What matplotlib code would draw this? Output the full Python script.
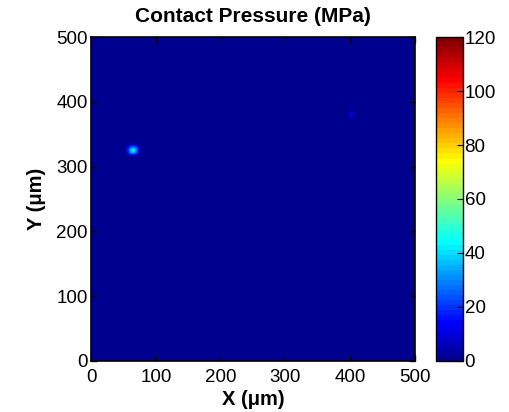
import numpy as np
import matplotlib
matplotlib.use('Agg')
import matplotlib.pyplot as plt
from matplotlib.colors import ListedColormap

plt.rcParams['font.family'] = ['Liberation Sans', 'DejaVu Sans']

# contact pressure map, 4 um cells over 500 x 500 um, mostly zero
cell = 4.0
size = 500.0
x_ticks = [0, 100, 200, 300, 400, 500]
y_ticks = [0, 100, 200, 300, 400, 500]
cb_ticks = [0, 20, 40, 60, 80, 100, 120]
p_min, p_max = 0, 120

# spot near (65, 327) um, rows from high y to low y
spot1_center = (65, 327)
spot1 = [[0, 3, 6, 6, 4, 1, 0],
         [2, 12, 25, 28, 20, 6, 1],
         [4, 22, 40, 44, 32, 10, 2],
         [3, 18, 35, 38, 26, 8, 1],
         [1, 5, 10, 10, 6, 2, 0]]
# faint spot near (403, 380) um
spot2_center = (403, 380)
spot2 = [[1, 4, 1],
         [3, 13, 3],
         [3, 12, 3],
         [1, 4, 1]]

n = int(size/cell)
pressure = np.zeros((n, n))
for center, patch in [(spot1_center, spot1), (spot2_center, spot2)]:
    patch = np.array(patch, dtype=float)[::-1]
    ci = int(center[1]/cell)
    cj = int(center[0]/cell)
    i0 = ci - patch.shape[0]//2
    j0 = cj - patch.shape[1]//2
    pressure[i0:i0+patch.shape[0], j0:j0+patch.shape[1]] = patch

def matlab_jet(m=64):
    k = int(np.ceil(m/4))
    u = np.concatenate([np.arange(1, k+1)/k, np.ones(k-1), np.arange(k, 0, -1)/k])
    g = int(np.ceil(k/2)) - (1 if m % 4 == 1 else 0) + np.arange(1, len(u)+1)
    r = g + k
    b = g - k
    cols = np.zeros((m, 3))
    for idx, ch in [(0, r), (1, g), (2, b)]:
        ok = (ch >= 1) & (ch <= m)
        cols[ch[ok]-1, idx] = u[ok]
    return ListedColormap(cols)

cmap = matlab_jet(64)
fs = 13.5

fig = plt.figure(figsize=(5.09, 4.12), dpi=100)
ax = fig.add_axes([0.179, 0.124, 0.636, 0.786])
cax = fig.add_axes([0.857, 0.124, 0.053, 0.786])

im = ax.imshow(pressure, origin='lower', extent=[0, size, 0, size], aspect='auto',
               cmap=cmap, vmin=p_min, vmax=p_max, interpolation='bilinear')
ax.set_xlim(0, 500)
ax.set_ylim(0, 500)
ax.set_xticks(x_ticks)
ax.set_yticks(y_ticks)
ax.tick_params(direction='in', top=True, right=True, length=4, width=1, labelsize=fs)
ax.tick_params(axis='x', pad=5.5)
ax.tick_params(axis='y', pad=2.5)
for s in ax.spines.values():
    s.set_linewidth(1.2)
ax.set_title("Contact Pressure (MPa)", fontsize=15, fontweight='bold', pad=11)
ax.set_xlabel("X (\u03bcm)", fontsize=14.5, fontweight='bold', labelpad=3)
ax.set_ylabel("Y (\u03bcm)", fontsize=14.5, fontweight='bold', labelpad=7)

cb = fig.colorbar(im, cax=cax, ticks=cb_ticks)
cb.ax.tick_params(direction='in', length=4, labelsize=fs, pad=1)
cb.outline.set_linewidth(1.0)

fig.savefig("out.png", dpi=100)
